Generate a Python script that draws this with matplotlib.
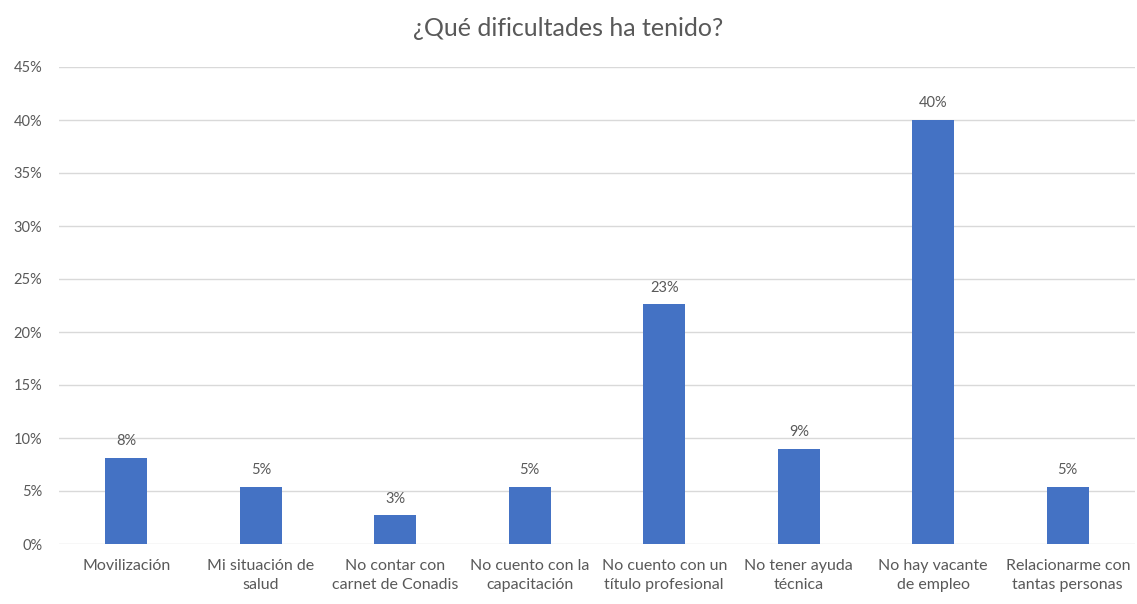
import matplotlib.pyplot as plt
import numpy as np

categorias = ["Movilización", "Mi situación de\nsalud", "No contar con\ncarnet de Conadis",
              "No cuento con la\ncapacitación", "No cuento con un\ntítulo profesional",
              "No tener ayuda\ntécnica", "No hay vacante\nde empleo", "Relacionarme con\ntantas personas"]
valores = [8.1, 5.4, 2.7, 5.4, 22.6, 9.0, 40.0, 5.4]
etiquetas = ["8%", "5%", "3%", "5%", "23%", "9%", "40%", "5%"]
ticks_y = [0, 5, 10, 15, 20, 25, 30, 35, 40, 45]

plt.rcParams['font.family'] = ['Lato', 'DejaVu Sans']
gris = "#595959"

fig = plt.figure(figsize=(11.37, 6.04), dpi=100)
ax = fig.add_axes([59 / 1137, 60 / 604, (1135 - 59) / 1137, (544 - 67) / 604])

x = np.arange(len(categorias))
barras = ax.bar(x, valores, width=0.31, color="#4472C4", zorder=3)
for b, t in zip(barras, etiquetas):
    ax.annotate(t, (b.get_x() + b.get_width() / 2, b.get_height()),
                xytext=(0, 7), textcoords="offset points",
                ha="center", va="bottom", fontsize=10.5, color=gris)

ax.set_xlim(-0.5, len(categorias) - 0.5)
ax.set_ylim(0, 45)
ax.set_yticks(ticks_y)
ax.set_yticklabels([f"{v}%" for v in ticks_y], fontsize=10.5, color=gris)
ax.set_xticks(x)
ax.set_xticklabels(categorias, fontsize=11.5, color=gris, linespacing=1.45)
ax.tick_params(axis="x", length=0, pad=11)
ax.tick_params(axis="y", length=0, pad=12)

ax.grid(axis="y", color="#d9d9d9", linewidth=1, zorder=0)
for s in ax.spines.values():
    s.set_visible(False)

fig.text(0.5, 1 - 28 / 604, "¿Qué dificultades ha tenido?", ha="center", va="center",
         fontsize=18, color=gris)

fig.savefig("out.png", dpi=100)
